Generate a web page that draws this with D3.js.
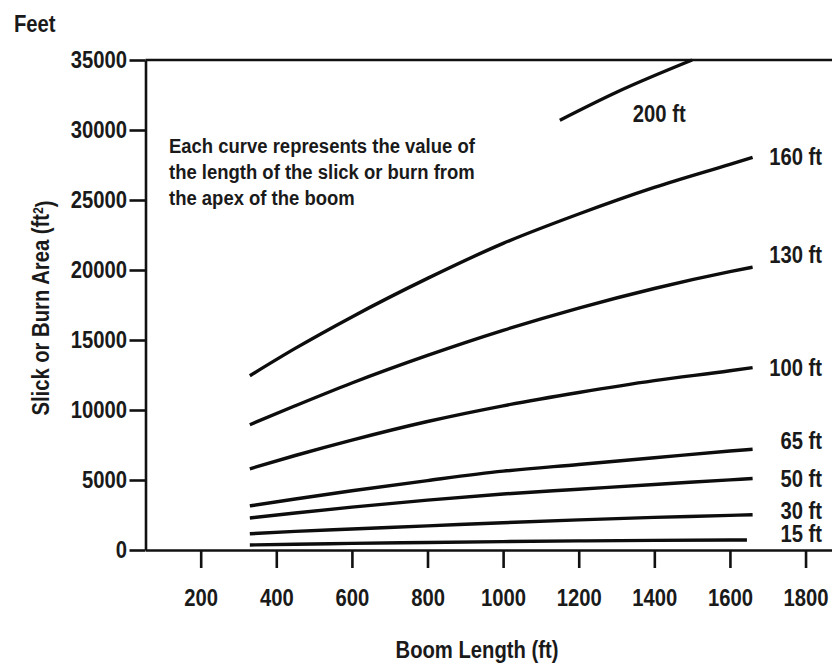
<!DOCTYPE html>
<html>
<head>
<meta charset="utf-8">
<script src="https://cdn.jsdelivr.net/npm/d3@7"></script>
<style>
  body { margin: 0; background: #fff; }
  svg text { font-family: "Liberation Sans", Arial, sans-serif; font-weight: bold; fill: #1a1a1a; }
</style>
</head>
<body>
<svg width="832" height="665"></svg>
<script>
// boom length (ft) sample points
const boomX   = [330, 450, 600, 800, 1000, 1200, 1400, 1600, 1660];
const boomX15 = [330, 450, 600, 800, 1000, 1200, 1400, 1600, 1645];
const boomX200 = [1150, 1300, 1500];

// slick or burn area (ft^2) for each slick length
const area15  = [360, 410, 470, 540, 600, 650, 690, 710, 715];
const area30  = [1160, 1330, 1500, 1720, 1950, 2150, 2330, 2470, 2520];
const area50  = [2290, 2640, 3060, 3560, 4000, 4340, 4680, 5010, 5110];
const area65  = [3150, 3640, 4230, 4960, 5630, 6110, 6590, 7070, 7200];
const area100 = [5800, 6750, 7850, 9180, 10300, 11250, 12100, 12800, 13030];
const area130 = [8950, 10300, 11930, 13900, 15690, 17280, 18680, 19880, 20200];
const area160 = [12450, 14400, 16650, 19400, 21900, 24000, 25900, 27550, 28050];
const area200 = [30700, 32700, 35000];

const xTicks = [200, 400, 600, 800, 1000, 1200, 1400, 1600, 1800];
const yTicks = [0, 5000, 10000, 15000, 20000, 25000, 30000, 35000];

const note = ["Each curve represents the value of",
              "the length of the slick or burn from",
              "the apex of the boom"];

const svg = d3.select('svg');
const width = +svg.attr('width');
const k = 0.88; // the original type is a narrow face, squeeze Liberation Sans to match

const x = d3.scaleLinear().domain([54, 1870]).range([145.5, width]);
const y = d3.scaleLinear().domain([0, 35000]).range([550, 60]);

function label(px, py, str, size, anchor) {
  return svg.append("text")
    .attr("transform", "translate(" + px + "," + py + ") scale(" + k + ",1)")
    .attr("text-anchor", anchor || "start")
    .style("font-size", size + "px")
    .text(str);
}

// axes
const xAxis = d3.axisBottom(x).tickValues(xTicks).tickSize(18).tickSizeOuter(0).tickPadding(22)
  .tickFormat(d3.format("d"));
const yAxis = d3.axisLeft(y).tickValues(yTicks).tickSize(16).tickSizeOuter(0).tickPadding(3)
  .tickFormat(d3.format("d"));

const gX = svg.append("g").attr("transform", "translate(0," + y(0) + ")").call(xAxis);
const gY = svg.append("g").attr("transform", "translate(" + x(54) + ",0)").call(yAxis);

[gX, gY].forEach(g => {
  g.select(".domain").attr("stroke", "#111").attr("stroke-width", 2.6);
  g.selectAll(".tick line").attr("stroke", "#111").attr("stroke-width", 2.6);
  g.selectAll(".tick text").style("font-size", "23px").attr("fill", "#1a1a1a")
    .attr("transform", "scale(" + k + ",1)");
});
gY.selectAll(".tick text").attr("x", -18.5 / k);

// top frame line
svg.append("line")
  .attr("x1", x(54)).attr("x2", width)
  .attr("y1", y(35000)).attr("y2", y(35000))
  .attr("stroke", "#111").attr("stroke-width", 2.6);

// curves
const curves = [
  {name: "15 ft",  xs: boomX15, ys: area15,  dy: -6},
  {name: "30 ft",  xs: boomX,   ys: area30,  dy: -4},
  {name: "50 ft",  xs: boomX,   ys: area50,  dy: 1},
  {name: "65 ft",  xs: boomX,   ys: area65,  dy: -8},
  {name: "100 ft", xs: boomX,   ys: area100, dy: 0},
  {name: "130 ft", xs: boomX,   ys: area130, dy: -12},
  {name: "160 ft", xs: boomX,   ys: area160, dy: 0},
];

const line = d3.line()
  .x(d => x(d[0]))
  .y(d => y(d[1]))
  .curve(d3.curveMonotoneX);

curves.forEach(c => {
  const pts = c.xs.map((v, i) => [v, c.ys[i]]);
  svg.append("path")
    .attr("d", line(pts))
    .attr("fill", "none")
    .attr("stroke", "#0d0d0d")
    .attr("stroke-width", 3.4);
  const last = pts[pts.length - 1];
  label(width - 10, y(last[1]) + c.dy + 8, c.name, 23, "end");
});

// 200 ft curve, cut by the top of the frame
const pts200 = boomX200.map((v, i) => [v, area200[i]]);
svg.append("path")
  .attr("d", line(pts200))
  .attr("fill", "none")
  .attr("stroke", "#0d0d0d")
  .attr("stroke-width", 3.4);
label(x(boomX200[0]) + 73, y(area200[0]) + 2, "200 ft", 23);

// note
const noteG = svg.append("text")
  .attr("transform", "translate(169,153) scale(" + k + ",1)")
  .style("font-size", "21px");
noteG.selectAll("tspan")
  .data(note)
  .join("tspan")
  .attr("x", 0)
  .attr("dy", (d, i) => i === 0 ? 0 : 26)
  .text(d => d);

// titles
label(14, 32, "Feet", 23);
label(477, 658, "Boom Length (ft)", 23, "middle");

const yt = svg.append("text")
  .attr("transform", "translate(49,308) rotate(-90) scale(" + k + ",1)")
  .attr("text-anchor", "middle")
  .style("font-size", "23px");
yt.append("tspan").text("Slick or Burn Area (ft");
yt.append("tspan").attr("dy", "-0.45em").style("font-size", "14px").text("2");
yt.append("tspan").attr("dy", "0.45em").text(")");
</script>
</body>
</html>
